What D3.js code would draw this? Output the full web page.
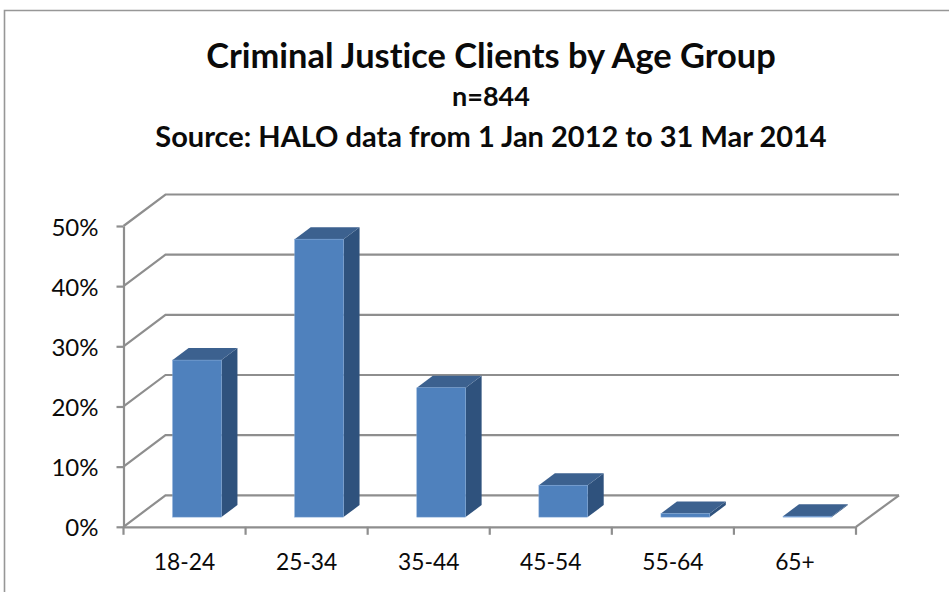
<!DOCTYPE html>
<html><head><meta charset="utf-8">
<script src="https://cdn.jsdelivr.net/npm/d3@7"></script>
<style>html,body{margin:0;background:#fff}svg{display:block}text{font-family:Lato,"Open Sans",sans-serif;fill:#0a0a0a;font-variant-ligatures:none}</style>
</head><body><svg id="c" width="949" height="592"></svg>
<script>
const categories = ["18-24","25-34","35-44","45-54","55-64","65+"];
const shares = [26.1,46.2,21.5,5.3,0.6,0.15];
const yTicks = [0,10,20,30,40,50];
const titleLines = ["Criminal Justice Clients by Age Group","n=844","Source: HALO data from 1 Jan 2012 to 31 Mar 2014"];

const svg = d3.select("#c");
const gridC="#8e8e8e";
const wall={dx:42,dy:-31.5}, bar={dx:12.5,dy:-9.7}, depth={dx:16,dy:-12};
const x=d3.scaleBand().domain(categories).range([123.5,856]).paddingInner(0.6).paddingOuter(0.3);
const y=d3.scaleLinear().domain([0,50]).range([526.8,226]);

// chart border
svg.append("path").attr("d","M4.5 592V10.5H949").attr("fill","none").attr("stroke","#979797").attr("stroke-width",1.6);

// title
const tY=[68,106,147], tS=[34.4,27,29];
svg.selectAll("text.t").data(titleLines).join("text").attr("class","t")
  .attr("x",491).attr("y",(d,i)=>tY[i]).attr("text-anchor","middle")
  .attr("font-weight",700).attr("font-size",(d,i)=>tS[i]).text(d=>d);

// gridlines: side wall diagonal + back wall horizontal
const line=d3.line();
svg.append("g").selectAll("path").data(yTicks).join("path")
  .attr("d",t=>line([[123.5,y(t)],[123.5+wall.dx,y(t)+wall.dy],[899,y(t)+wall.dy]]))
  .attr("fill","none").attr("stroke",gridC).attr("stroke-width",2.2);
// floor right edge
svg.append("path").attr("d",line([[856,y(0)],[856+wall.dx+1,y(0)+wall.dy]]))
  .attr("fill","none").attr("stroke",gridC).attr("stroke-width",2.2);

// axes
const yAxis=svg.append("g").attr("transform","translate(123.5,0)")
  .call(d3.axisLeft(y).tickValues(yTicks).tickFormat(d=>d+"%").tickSize(7).tickPadding(18).tickSizeOuter(0));
yAxis.selectAll("path,line").attr("stroke",gridC).attr("stroke-width",2.2);
yAxis.selectAll("text").attr("font-size",24).attr("dy","0.38em").attr("font-family","Lato").attr("fill","#0a0a0a");

const xAxis=svg.append("g").attr("transform",`translate(0,${y(0)})`)
  .call(d3.axisBottom(x).tickSize(0).tickPadding(27));
xAxis.selectAll("path").attr("stroke",gridC).attr("stroke-width",2.2);
xAxis.selectAll("text").attr("font-size",22.8).attr("font-family","Lato").attr("fill","#0a0a0a");
const edges=[...categories.map(c=>x(c)-x.step()*0.3),856];
svg.append("g").selectAll("line").data(edges).join("line")
  .attr("x1",d=>d).attr("x2",d=>d).attr("y1",y(0)).attr("y2",y(0)+8)
  .attr("stroke",gridC).attr("stroke-width",2.2);

// 3D bars
const g=svg.append("g").selectAll("g").data(categories.map((c,i)=>({c,v:shares[i]}))).join("g")
  .attr("transform",`translate(${bar.dx},${bar.dy})`);
const X=d=>x(d.c), W=x.bandwidth(), T=d=>y(d.v), B=y(0);
g.append("path").attr("fill","#2f527d")
  .attr("d",d=>line([[X(d)+W,T(d)],[X(d)+W+depth.dx,T(d)+depth.dy],[X(d)+W+depth.dx,B+depth.dy],[X(d)+W,B]])+"Z");
g.append("path").attr("fill","#3c618f")
  .attr("d",d=>line([[X(d),T(d)],[X(d)+depth.dx,T(d)+depth.dy],[X(d)+W+depth.dx,T(d)+depth.dy],[X(d)+W,T(d)]])+"Z");
g.append("rect").attr("fill","#4f81bd").attr("stroke","#7fa6d6").attr("stroke-width",0.5)
  .attr("x",X).attr("y",T).attr("width",W).attr("height",d=>B-T(d));
</script></body></html>
